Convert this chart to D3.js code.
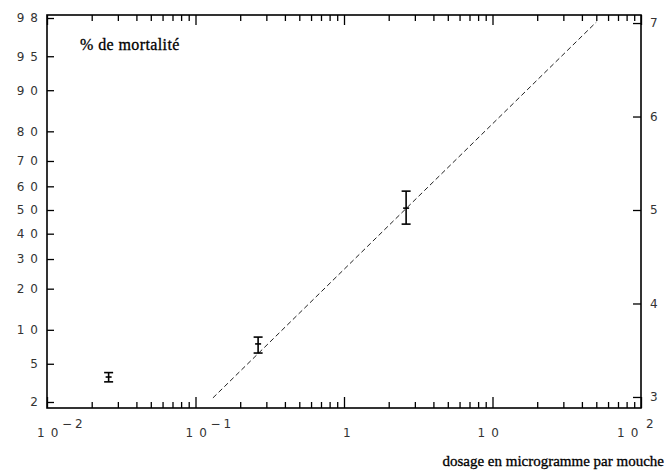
<!DOCTYPE html>
<html>
<head>
<meta charset="utf-8">
<script src="https://cdn.jsdelivr.net/npm/d3@7"></script>
<style>
  body { margin: 0; background: #fff; }
  .tick text { font-family: "DejaVu Sans", sans-serif; font-size: 12px; letter-spacing: 6px; fill: #333; }
  .lab { font-family: "DejaVu Sans", sans-serif; font-size: 12px; letter-spacing: 6px; fill: #333; }
  .title { font-family: "Liberation Serif", "Times New Roman", serif; font-size: 15px; fill: #000; stroke: #000; stroke-width: 0.3px; }
</style>
</head>
<body>
<div id="chart"></div>
<script>

// data
var doses = [0.026, 0.264, 2.62];          // microgramme par mouche
var mortality = [3.7, 7.6, 50.8];          // % de mortalité
var mortalityLow = [3.3, 6.3, 44];
var mortalityHigh = [4.1, 8.7, 58];

// fitted probit line (two ends)
var lineDose = [0.131, 50];
var lineProbit = [2.99, 7.01];

// tick labels
var pctTicks = [2, 5, 10, 20, 30, 40, 50, 60, 70, 80, 90, 95, 98];
var probitTicks = [3, 4, 5, 6, 7];
var xLabels = [
    { v: 0.01, base: "10", exp: "\u22122" },
    { v: 0.1, base: "10", exp: "\u22121" },
    { v: 1, base: "1", exp: "" },
    { v: 10, base: "10", exp: "" },
    { v: 100, base: "10", exp: "2" }
];

// inverse normal cdf (Acklam)
function qnorm(p) {
    var a = [-3.969683028665376e+01, 2.209460984245205e+02, -2.759285104469687e+02, 1.383577518672690e+02, -3.066479806614716e+01, 2.506628277459239e+00];
    var b = [-5.447609879822406e+01, 1.615858368580409e+02, -1.556989798598866e+02, 6.680131188771972e+01, -1.328068155288572e+01];
    var c = [-7.784894002430293e-03, -3.223964580411365e-01, -2.400758277161838e+00, -2.549671010229713e+00, 4.374664141464968e+00, 2.938163982698783e+00];
    var d = [7.784695709041462e-03, 3.224671290700398e-01, 2.445134137142996e+00, 3.754408661907416e+00];
    var plow = 0.02425, q, r;
    if (p < plow) {
        q = Math.sqrt(-2 * Math.log(p));
        return (((((c[0] * q + c[1]) * q + c[2]) * q + c[3]) * q + c[4]) * q + c[5]) / ((((d[0] * q + d[1]) * q + d[2]) * q + d[3]) * q + 1);
    } else if (p <= 1 - plow) {
        q = p - 0.5; r = q * q;
        return (((((a[0] * r + a[1]) * r + a[2]) * r + a[3]) * r + a[4]) * r + a[5]) * q / (((((b[0] * r + b[1]) * r + b[2]) * r + b[3]) * r + b[4]) * r + 1);
    }
    q = Math.sqrt(-2 * Math.log(1 - p));
    return -(((((c[0] * q + c[1]) * q + c[2]) * q + c[3]) * q + c[4]) * q + c[5]) / ((((d[0] * q + d[1]) * q + d[2]) * q + d[3]) * q + 1);
}
function probit(pct) { return 5 + qnorm(pct / 100); }

var W = 666, H = 471;
var m = { left: 47, right: 641, top: 15, bottom: 408 };

var svg = d3.select('#chart')
    .append('svg')
    .attr('width', W)
    .attr('height', H);

var x = d3.scaleLog().domain([0.01, 100]).range([m.left, m.right]);
var y = d3.scaleLinear().domain([2.882, 7.086]).range([m.bottom, m.top]);

var allTicks = x.ticks();
var majors = allTicks.filter(d => Math.abs(Math.log10(d) - Math.round(Math.log10(d))) < 1e-9);
var minors = allTicks.filter(d => majors.indexOf(d) < 0);

// bottom and top ticks (inward)
function xTicks(gen, ypos, vals, len) {
    svg.append('g')
        .attr('class', 'x axis')
        .attr('transform', `translate(0,${ypos})`)
        .call(gen(x).tickValues(vals).tickSize(-len).tickFormat(''))
        .call(g => g.select('.domain').remove())
        .call(g => g.selectAll('line').attr('stroke', '#000').attr('stroke-width', 1.3));
}
xTicks(d3.axisBottom, m.bottom, majors, 11);
xTicks(d3.axisBottom, m.bottom, minors, 6);
xTicks(d3.axisTop, m.top, majors, 10);
xTicks(d3.axisTop, m.top, minors, 6);

// left percent axis
svg.append('g')
    .attr('transform', `translate(${m.left},0)`)
    .call(d3.axisLeft(y)
        .tickValues(pctTicks.map(probit))
        .tickSize(-7)
        .tickPadding(3)
        .tickFormat((d, i) => pctTicks[i]))
    .call(g => g.select('.domain').remove())
    .call(g => g.selectAll('line').attr('stroke', '#000').attr('stroke-width', 1.3));

// right probit axis
svg.append('g')
    .attr('transform', `translate(${m.right},0)`)
    .call(d3.axisRight(y)
        .tickValues(probitTicks)
        .tickSize(-8)
        .tickPadding(9)
        .tickFormat(d3.format('d')))
    .call(g => g.select('.domain').remove())
    .call(g => g.selectAll('line').attr('stroke', '#000').attr('stroke-width', 1.3))
    .call(g => g.selectAll('text').attr('text-anchor', 'start'));

// frame
svg.append('rect')
    .attr('x', m.left).attr('y', m.top)
    .attr('width', m.right - m.left).attr('height', m.bottom - m.top)
    .attr('fill', 'none')
    .attr('stroke', '#000')
    .attr('stroke-width', 1.6);

// x labels: negative powers start just left of the tick, the last one is pulled in
function baseX(d) {
    if (d.exp === "2") return x(d.v) - 24;
    if (d.exp) return x(d.v) - 10;
    if (d.base === "1") return x(d.v) - 1;
    return x(d.v) - 15;
}
var xl = svg.append('g').selectAll('g')
    .data(xLabels)
    .enter().append('g');
xl.append('text')
    .attr('class', 'lab')
    .attr('x', baseX)
    .attr('y', 437)
    .text(d => d.base);
xl.append('text')
    .attr('class', 'lab')
    .attr('x', d => d.exp === "2" ? x(d.v) + 5 : x(d.v) + 15)
    .attr('y', 428)
    .style('letter-spacing', '3px')
    .text(d => d.exp);

// fitted line
svg.append('line')
    .attr('x1', x(lineDose[0])).attr('y1', y(lineProbit[0]))
    .attr('x2', x(lineDose[1])).attr('y2', y(lineProbit[1]))
    .attr('stroke', '#222')
    .attr('stroke-width', 1)
    .attr('stroke-dasharray', '5,3');

// error bars
var bars = svg.append('g').selectAll('g')
    .data(doses.map((d, i) => ({ dose: d, m: mortality[i], lo: mortalityLow[i], hi: mortalityHigh[i] })))
    .enter().append('g')
    .attr('stroke', '#000')
    .attr('stroke-width', 1.6);
bars.append('line')
    .attr('x1', d => x(d.dose)).attr('x2', d => x(d.dose))
    .attr('y1', d => y(probit(d.lo))).attr('y2', d => y(probit(d.hi)));
bars.append('line')
    .attr('x1', d => x(d.dose) - 4.5).attr('x2', d => x(d.dose) + 4.5)
    .attr('y1', d => y(probit(d.lo))).attr('y2', d => y(probit(d.lo)));
bars.append('line')
    .attr('x1', d => x(d.dose) - 4.5).attr('x2', d => x(d.dose) + 4.5)
    .attr('y1', d => y(probit(d.hi))).attr('y2', d => y(probit(d.hi)));
bars.append('line')
    .attr('x1', d => x(d.dose) - 3).attr('x2', d => x(d.dose) + 3)
    .attr('y1', d => y(probit(d.m))).attr('y2', d => y(probit(d.m)));

// titles
svg.append('text')
    .attr('class', 'title')
    .attr('x', 80).attr('y', 50)
    .style('font-size', '16px')
    .style('letter-spacing', '0.4px')
    .text('% de mortalité');
svg.append('text')
    .attr('class', 'title')
    .attr('x', 664).attr('y', 466)
    .attr('text-anchor', 'end')
    .text('dosage en microgramme par mouche');

</script>
</body>
</html>
